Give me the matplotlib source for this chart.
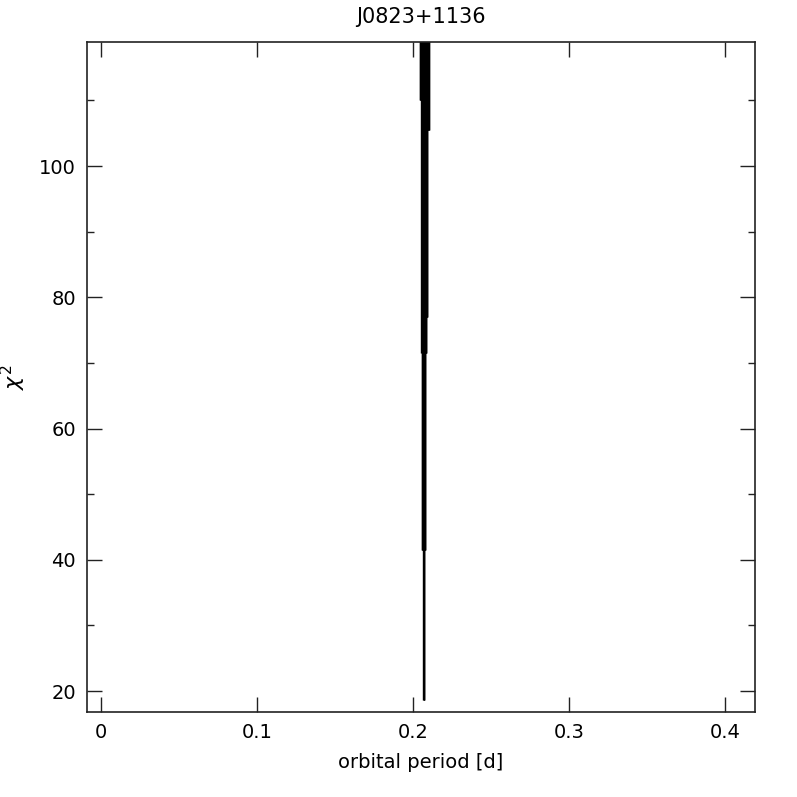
import matplotlib
matplotlib.use("Agg")
import matplotlib.pyplot as plt
from matplotlib.ticker import MultipleLocator

# chi^2 minimum reached in each narrow period column
period = [0.2043, 0.2045, 0.2047, 0.2049, 0.2051, 0.2053, 0.2055, 0.2057,
          0.2059, 0.2061, 0.2063, 0.2065, 0.2067, 0.2069, 0.2071, 0.2073,
          0.2075, 0.2077, 0.2079, 0.2081, 0.2083, 0.2085, 0.2087, 0.2089,
          0.2091, 0.2093, 0.2095, 0.2097, 0.2099, 0.2101]
chi2_min = [110, 110, 110, 110, 110, 71.5, 71.5, 41.5,
            41.5, 41.5, 41.5, 18.6, 18.6, 18.6, 18.6, 41.5,
            41.5, 41.5, 71.5, 71.5, 71.5, 77, 77, 77,
            77, 105.5, 105.5, 105.5, 105.5, 105.5]
chi2_max = 130  # curve runs off the top of the plot

naslov = "J0823+1136"
x_oznaka = "orbital period [d]"
y_oznaka = r"$\chi^2$"

fig = plt.figure(figsize=(7.97, 7.97), dpi=100)
ax = fig.add_axes([87 / 797, 85 / 797, 668 / 797, 670 / 797])

ax.vlines(period, chi2_min, chi2_max, color="black", linewidth=1.0)

ax.set_xlim(-0.009, 0.419)
ax.set_ylim(16.8, 118.9)

ax.xaxis.set_major_locator(MultipleLocator(0.1))
ax.yaxis.set_major_locator(MultipleLocator(20))
ax.yaxis.set_minor_locator(MultipleLocator(10))
ax.xaxis.set_major_formatter(plt.FuncFormatter(lambda v, p: "0" if abs(v) < 1e-9 else f"{v:g}"))

ax.tick_params(which="both", direction="in", top=True, right=True,
               colors="#222222", labelcolor="black", labelsize=14, width=1.0)
ax.tick_params(which="major", length=11)
ax.tick_params(which="minor", length=5)
ax.tick_params(axis="x", pad=8)
ax.tick_params(axis="y", pad=8)

for s in ax.spines.values():
    s.set_linewidth(1.2)
    s.set_color("#222222")

ax.set_title(naslov, fontsize=15, pad=14)
ax.set_xlabel(x_oznaka, fontsize=14, labelpad=8)
ax.set_ylabel(y_oznaka, fontsize=16)
ax.yaxis.set_label_coords(-0.088, 0.5)

fig.savefig("out.png", dpi=100)
